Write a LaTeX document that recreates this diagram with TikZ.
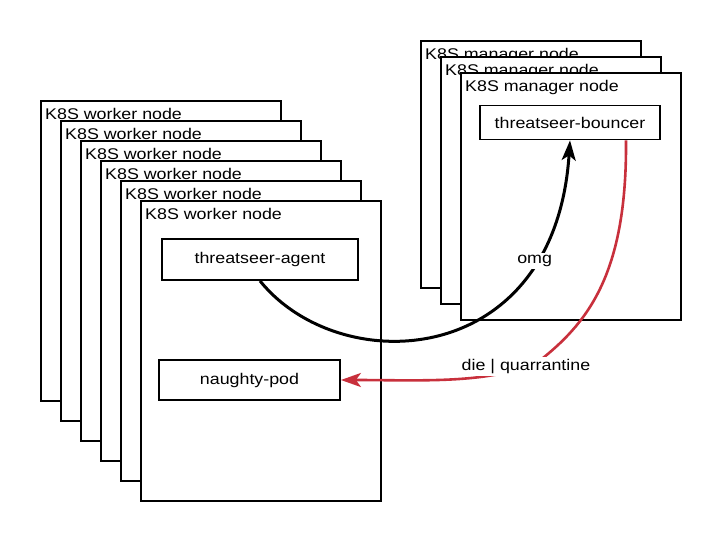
\documentclass[tikz,border=0pt]{standalone}
\usepackage{fontspec}
\setmainfont[FakeStretch=1.15]{Liberation Sans}
\usetikzlibrary{positioning,arrows.meta}
\definecolor{killred}{RGB}{200,48,60}
\tikzstyle{hostbox} = [draw=black, fill=white, line width=1.8pt, rectangle, anchor=north west, inner sep=0pt]
\tikzstyle{workerbox} = [hostbox, minimum width=240pt, minimum height=300pt]
\tikzstyle{managerbox} = [hostbox, minimum width=220pt, minimum height=247pt]
\tikzstyle{hosttitle} = [anchor=base west, inner sep=0pt]
\tikzstyle{procbox} = [draw=black, fill=white, line width=1.8pt, rectangle, inner sep=0pt]
\tikzstyle{flowlabel} = [fill=white, text=black, inner sep=2pt]

\begin{document}
\begin{tikzpicture}[x=1pt, y=-1pt, font=\fontsize{15.5}{18}\selectfont]
	\useasboundingbox (0,0) rectangle (720,540);
	% worker nodes, back to front
	\node[workerbox] (worker1) at (40,100) {};
	\node[hosttitle] (worker1title) at ([xshift=5pt,yshift=-19.5pt]worker1.north west) {K8S worker node};
	\node[workerbox] (worker2) at (60,120) {};
	\node[hosttitle] (worker2title) at ([xshift=5pt,yshift=-19.5pt]worker2.north west) {K8S worker node};
	\node[workerbox] (worker3) at (80,140) {};
	\node[hosttitle] (worker3title) at ([xshift=5pt,yshift=-19.5pt]worker3.north west) {K8S worker node};
	\node[workerbox] (worker4) at (100,160) {};
	\node[hosttitle] (worker4title) at ([xshift=5pt,yshift=-19.5pt]worker4.north west) {K8S worker node};
	\node[workerbox] (worker5) at (120,180) {};
	\node[hosttitle] (worker5title) at ([xshift=5pt,yshift=-19.5pt]worker5.north west) {K8S worker node};
	\node[workerbox] (worker6) at (140,200) {};
	\node[hosttitle] (worker6title) at ([xshift=5pt,yshift=-19.5pt]worker6.north west) {K8S worker node};
	% manager nodes
	\node[managerbox] (manager1) at (420,40) {};
	\node[hosttitle] (manager1title) at ([xshift=5pt,yshift=-19.5pt]manager1.north west) {K8S manager node};
	\node[managerbox] (manager2) at (440,56) {};
	\node[hosttitle] (manager2title) at ([xshift=5pt,yshift=-19.5pt]manager2.north west) {K8S manager node};
	\node[managerbox] (manager3) at (460,72) {};
	\node[hosttitle] (manager3title) at ([xshift=5pt,yshift=-19.5pt]manager3.north west) {K8S manager node};
	% processes
	\node[procbox, minimum width=180pt, minimum height=34pt] (bouncer) at (570,122.5) {threatseer-bouncer};
	\node[procbox, minimum width=196pt, minimum height=41pt] (agent) at (260,259.5) {threatseer-agent};
	\node[procbox, minimum width=181pt, minimum height=40pt] (pod) at (249.5,380) {naughty-pod};
	% flows
	\draw[line width=3pt, -{Stealth[length=20pt,width=14pt,inset=5pt]}] (agent.south) .. controls (340,380) and (555,370) .. (bouncer.south)
		node[flowlabel, pos=0.78] (omglabel) {omg};
	\draw[killred, line width=2.6pt, -{Stealth[length=20pt,width=14pt,inset=5pt]}] ([xshift=56pt]bouncer.south) .. controls (627,270) and (590,320) .. (543,358)
		.. controls (500,385) and (420,380) .. (pod.east)
		node[flowlabel, pos=0.12] (dielabel) {die | quarrantine};
\end{tikzpicture}
\end{document}
